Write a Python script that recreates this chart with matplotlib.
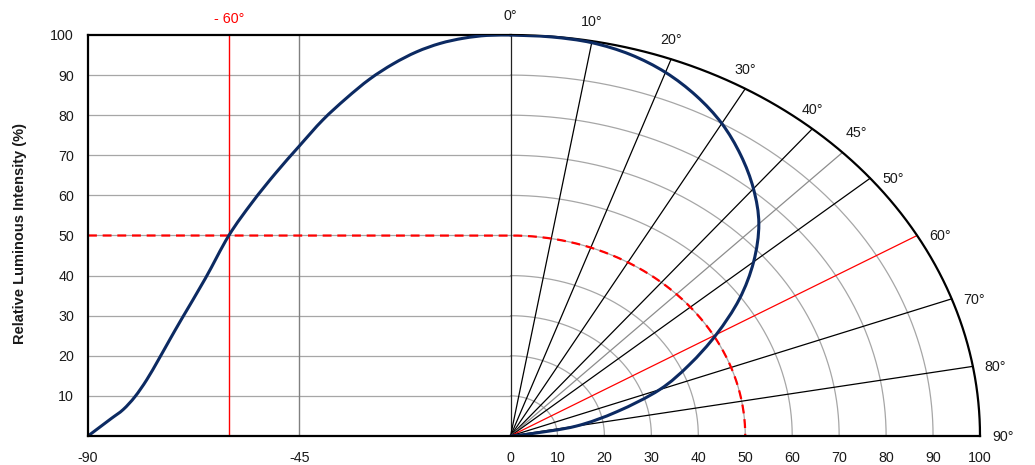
"""Relative luminous intensity: cartesian view (left) and polar view (right)."""
import numpy as np
import matplotlib
matplotlib.use("Agg")
import matplotlib.pyplot as plt
from matplotlib.path import Path
from matplotlib.patches import PathPatch

plt.rcParams["font.family"] = ["Liberation Sans", "DejaVu Sans"]

# left half: intensity vs angle (deg)
left_angle = [-90, -87.5, -85, -82.5, -80, -77.5, -75, -72.5, -70, -65, -60,
              -55, -50, -45, -40, -35, -30, -25, -20, -15, -10, -5, 0]
left_value = [0, 2.2, 4.4, 6.6, 9.8, 14.0, 19.0, 24.2, 29.3, 39.3, 50.0,
              58.3, 65.6, 72.3, 78.8, 84.2, 89.0, 92.8, 95.8, 97.9, 99.2, 99.9, 100]

# right half: polar radius vs angle (deg from vertical)
polar_angle = [0, 5, 10, 15, 20, 25, 30, 35, 40, 45, 50, 55, 60, 65, 70, 75,
               80, 82.5, 85, 90]
polar_r = [100, 99.9, 99.6, 98.5, 96.5, 93.6, 90.0, 85.5, 80.5, 74.8, 67.6,
           59.5, 50.6, 42.0, 33.8, 23.5, 14.2, 4.5, 1.2, 0]

grid_r = [10, 20, 30, 40, 50, 60, 70, 80, 90]
spoke_angles = [10, 20, 30, 40, 45, 50, 60, 70, 80]
label_angles = [0, 10, 20, 30, 40, 45, 50, 60, 70, 80, 90]
xticks = [-90, -45, 0, 10, 20, 30, 40, 50, 60, 70, 80, 90, 100]
yticks = [10, 20, 30, 40, 50, 60, 70, 80, 90, 100]

half_value = 50
half_angle = -60

navy = "#0c2a62"
grey = "#a6a6a6"
txt = "#1a1a1a"
fs = 10.3


def smooth_path(x, y):
    # Catmull-Rom through the points, as cubic Bezier segments
    p = np.column_stack([x, y]).astype(float)
    ext = np.vstack([p[0], p, p[-1]])
    verts = [p[0]]
    codes = [Path.MOVETO]
    for i in range(1, len(ext) - 2):
        c1 = ext[i] + (ext[i + 1] - ext[i - 1]) / 6
        c2 = ext[i + 1] - (ext[i + 2] - ext[i]) / 6
        verts += [c1, c2, ext[i + 1]]
        codes += [Path.CURVE4] * 3
    return Path(verts, codes)


fig = plt.figure(figsize=(10.35, 4.65), dpi=100)
ax = fig.add_axes([88 / 1035, 29 / 465, 892 / 1035, 401 / 465])
ax.set_xlim(-90, 100)
ax.set_ylim(0, 100)

th = np.radians(np.linspace(0, 90, 300))

# left grid
for y in grid_r:
    ax.plot([-90, 0], [y, y], color=grey, lw=0.9, zorder=1)
ax.plot([-90, 0], [100, 100], color="black", lw=1.6, zorder=3, clip_on=False)
ax.axvline(-45, color="#808080", lw=1.0, zorder=1)
ax.axvline(half_angle, color="red", lw=1.0, zorder=2)

# polar grid
for r in grid_r:
    ax.plot(r * np.sin(th), r * np.cos(th), color=grey, lw=0.9, zorder=1)
ax.plot(100 * np.sin(th), 100 * np.cos(th), color="black", lw=1.6, zorder=3,
        clip_on=False)
ax.plot([0, 0], [0, 100], color="#222222", lw=0.9, zorder=2)
for a in spoke_angles:
    c = "red" if a == 60 else ("#8c8c8c" if a == 45 else "black")
    t = np.radians(a)
    ax.plot([0, 100 * np.sin(t)], [0, 100 * np.cos(t)], color=c, lw=0.9, zorder=2)

# 50 % dashed guide
dx = np.concatenate([[-90], half_value * np.sin(th)])
dy = np.concatenate([[half_value], half_value * np.cos(th)])
ax.plot(dx, dy, color="red", lw=1.6, dashes=(4, 2.6), zorder=4)

# curves
ax.add_patch(PathPatch(smooth_path(left_angle, left_value), fill=False,
                       edgecolor=navy, lw=2.2, zorder=5, joinstyle="round",
                       capstyle="round"))
pa = np.radians(polar_angle)
ax.add_patch(PathPatch(smooth_path(np.array(polar_r) * np.sin(pa),
                                   np.array(polar_r) * np.cos(pa)),
                       fill=False, edgecolor=navy, lw=2.2, zorder=5,
                       joinstyle="round", capstyle="round"))

# angle labels
for a in label_angles:
    t = np.radians(a)
    xy = (100 * np.sin(t), 100 * np.cos(t))
    if a <= 40:
        off, ha = (0, 19), "center"
    elif a == 45:
        off, ha = (14, 19), "center"
    else:
        off, ha = (12, -1), "left"
    ax.annotate(f"{a}°", xy=xy, xytext=off, textcoords="offset pixels",
                ha=ha, va="center", fontsize=fs, color=txt,
                annotation_clip=False)
ax.annotate("- 60°", xy=(half_angle, 100), xytext=(0, 16),
            textcoords="offset pixels", ha="center", va="center",
            fontsize=fs, color="red", annotation_clip=False)

# axes styling
for s in ["top", "right"]:
    ax.spines[s].set_visible(False)
for s in ["left", "bottom"]:
    ax.spines[s].set_linewidth(1.6)
    ax.spines[s].set_zorder(6)
ax.set_xticks(xticks)
ax.set_xticklabels([str(v) for v in xticks])
ax.set_yticks(yticks)
ax.set_yticklabels([str(v) for v in yticks])
ax.tick_params(axis="x", length=0, pad=10.5, labelsize=fs, labelcolor=txt)
ax.tick_params(axis="y", length=0, pad=10, labelsize=fs, labelcolor=txt)
ax.set_ylabel("Relative Luminous Intensity (%)", fontsize=10.5,
              fontweight="bold", color=txt)
ax.yaxis.set_label_coords(-0.068, 0.505)

fig.savefig("out.png", dpi=100)
